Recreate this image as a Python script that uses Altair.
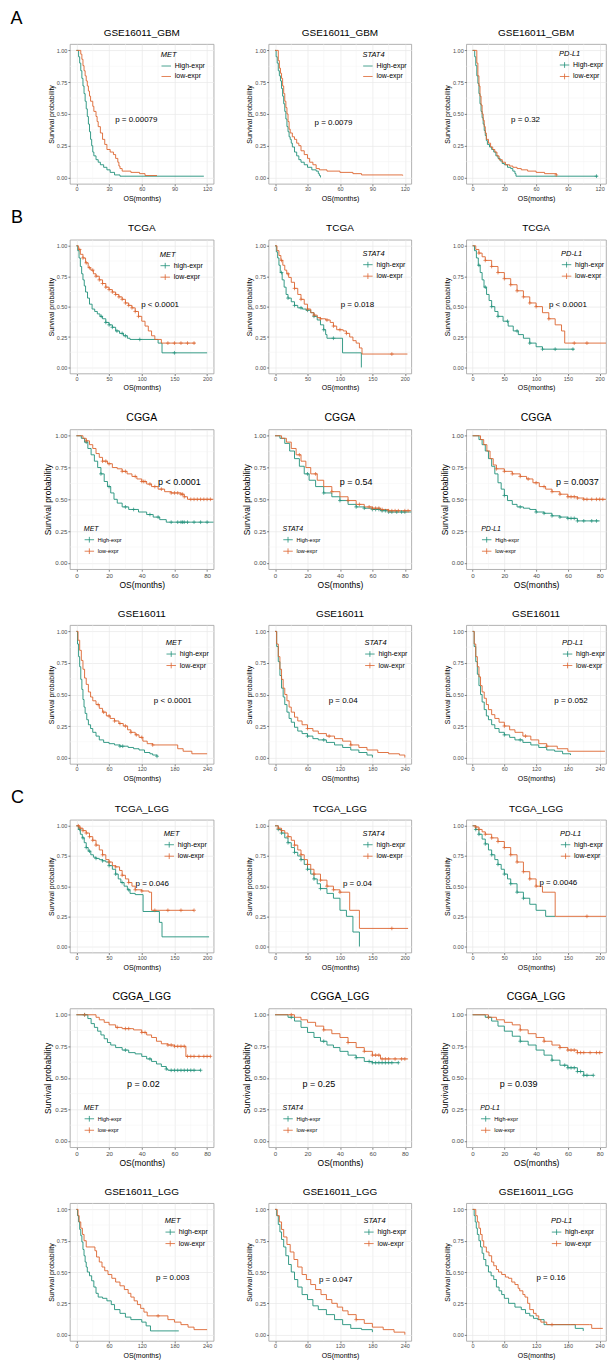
import altair as alt
import pandas as pd

GREEN = "#21917A"
ORANGE = "#DD6530"
FONT = "Liberation Sans"

# ---------------- data: (month, survival) step points ----------------
GBM_MET_HIGH = [(0,1.0),(2,0.95),(3,0.9),(4,0.84),(5,0.78),(6,0.72),(7,0.66),(8,0.6),(9,0.54),(10,0.48),(11,0.42),(12,0.36),(13,0.3),(14,0.25),(15,0.2),(16,0.17),(18,0.14),(20,0.12),(22,0.1),(25,0.08),(28,0.06),(31,0.04),(35,0.02),(40,0.01),(117,0.01)]
GBM_MET_LOW = [(0,1.0),(4,0.97),(5,0.93),(6,0.88),(7,0.84),(8,0.8),(9,0.76),(10,0.72),(11,0.68),(12,0.64),(13,0.6),(15,0.56),(16,0.52),(18,0.48),(19,0.44),(20,0.4),(22,0.35),(24,0.3),(26,0.26),(28,0.22),(31,0.2),(34,0.18),(36,0.15),(38,0.12),(39,0.09),(40,0.07),(42,0.05),(50,0.04),(58,0.03),(63,0.015),(74,0.015)]
GBM_STAT4_HIGH = [(0,1.0),(1,0.95),(2,0.9),(3,0.84),(4,0.8),(5,0.76),(6,0.7),(7,0.64),(8,0.58),(9,0.52),(10,0.46),(11,0.4),(12,0.36),(13,0.32),(14,0.3),(15,0.27),(16,0.24),(18,0.2),(20,0.17),(22,0.14),(24,0.12),(27,0.1),(30,0.08),(34,0.06),(38,0.05),(40,0.03),(41,0.015),(42,0.0)]
GBM_STAT4_LOW = [(0,1.0),(3,0.92),(4,0.86),(5,0.82),(6,0.78),(7,0.72),(8,0.66),(9,0.6),(10,0.55),(11,0.5),(12,0.44),(13,0.38),(14,0.35),(16,0.32),(18,0.3),(20,0.27),(22,0.25),(24,0.21),(27,0.18),(30,0.15),(32,0.12),(35,0.1),(38,0.07),(41,0.06),(48,0.05),(60,0.04),(72,0.03),(80,0.02),(118,0.015)]
GBM_PDL1_HIGH = [(0,1.0),(2,0.95),(3,0.88),(4,0.8),(5,0.74),(6,0.66),(7,0.58),(8,0.52),(9,0.47),(10,0.42),(11,0.37),(12,0.33),(13,0.29),(14,0.26),(16,0.24),(18,0.22),(20,0.2),(22,0.17),(24,0.15),(26,0.13),(28,0.11),(30,0.1),(33,0.08),(36,0.07),(38,0.05),(40,0.03),(41,0.01),(118,0.01)]
GBM_PDL1_LOW = [(0,1.0),(4,0.9),(5,0.8),(6,0.72),(7,0.64),(8,0.57),(9,0.5),(10,0.45),(11,0.4),(12,0.35),(13,0.3),(15,0.27),(17,0.24),(19,0.22),(21,0.2),(23,0.17),(25,0.14),(28,0.12),(31,0.1),(35,0.09),(38,0.08),(42,0.07),(46,0.06),(52,0.05),(60,0.04),(68,0.03),(79,0.02)]

TCGA_MET_HIGH = [(0,1.0),(2,0.96),(4,0.9),(6,0.83),(8,0.77),(10,0.72),(12,0.67),(14,0.62),(17,0.57),(20,0.52),(24,0.48),(28,0.46),(32,0.44),(36,0.42),(40,0.4),(45,0.37),(50,0.35),(55,0.33),(60,0.3),(66,0.28),(72,0.26),(78,0.24),(82,0.23),(125,0.2),(131,0.12),(200,0.12)]
TCGA_MET_LOW = [(0,1.0),(3,0.97),(6,0.93),(10,0.9),(14,0.86),(18,0.82),(22,0.8),(26,0.77),(30,0.75),(35,0.72),(40,0.69),(45,0.66),(50,0.64),(55,0.62),(60,0.6),(65,0.58),(70,0.56),(75,0.53),(80,0.51),(85,0.49),(90,0.46),(95,0.42),(100,0.38),(105,0.34),(110,0.3),(115,0.26),(120,0.23),(130,0.2),(182,0.2)]
TCGA_STAT4_HIGH = [(0,1.0),(2,0.95),(4,0.9),(6,0.84),(8,0.78),(11,0.72),(14,0.66),(17,0.6),(20,0.57),(25,0.54),(30,0.51),(35,0.49),(42,0.48),(48,0.47),(55,0.45),(60,0.42),(65,0.39),(70,0.35),(75,0.31),(78,0.27),(80,0.24),(104,0.12),(133,0.0)]
TCGA_STAT4_LOW = [(0,1.0),(3,0.96),(6,0.92),(9,0.88),(12,0.84),(15,0.8),(18,0.77),(21,0.74),(25,0.7),(30,0.65),(35,0.6),(40,0.56),(45,0.52),(50,0.48),(55,0.45),(60,0.43),(65,0.41),(70,0.4),(78,0.39),(85,0.37),(90,0.34),(95,0.31),(105,0.3),(110,0.28),(115,0.25),(120,0.22),(125,0.2),(130,0.16),(134,0.11),(204,0.11)]
TCGA_PDL1_HIGH = [(0,1.0),(3,0.96),(6,0.9),(9,0.84),(12,0.78),(15,0.72),(18,0.66),(22,0.6),(26,0.55),(30,0.5),(35,0.46),(40,0.42),(48,0.38),(56,0.34),(64,0.3),(72,0.27),(80,0.24),(90,0.2),(100,0.17),(110,0.15),(160,0.15)]
TCGA_PDL1_LOW = [(0,1.0),(5,0.97),(10,0.94),(15,0.91),(20,0.88),(30,0.83),(40,0.78),(50,0.73),(60,0.68),(70,0.63),(80,0.58),(90,0.53),(100,0.5),(110,0.45),(120,0.4),(130,0.35),(140,0.3),(145,0.2),(210,0.2)]

CGGA_MET_HIGH = [(0,1.0),(3,0.98),(5,0.95),(7,0.9),(9,0.85),(11,0.8),(13,0.75),(15,0.7),(17,0.64),(19,0.6),(21,0.55),(23,0.5),(25,0.47),(28,0.44),(32,0.42),(38,0.4),(43,0.38),(47,0.36),(51,0.34),(55,0.32),(84,0.32)]
CGGA_MET_LOW = [(0,1.0),(4,0.98),(6,0.96),(8,0.93),(10,0.9),(12,0.86),(14,0.83),(16,0.8),(19,0.78),(22,0.75),(25,0.74),(28,0.72),(31,0.7),(34,0.68),(37,0.66),(40,0.64),(43,0.62),(46,0.6),(50,0.58),(54,0.56),(58,0.55),(64,0.54),(66,0.52),(68,0.5),(84,0.5)]
CGGA_STAT4_HIGH = [(0,1.0),(3,0.98),(6,0.94),(9,0.88),(12,0.82),(15,0.76),(18,0.7),(21,0.65),(25,0.6),(30,0.55),(35,0.52),(40,0.49),(45,0.46),(50,0.44),(55,0.43),(60,0.42),(65,0.41),(70,0.4),(84,0.4)]
CGGA_STAT4_LOW = [(0,1.0),(4,0.98),(7,0.95),(10,0.9),(13,0.85),(16,0.8),(19,0.75),(22,0.7),(26,0.65),(30,0.6),(35,0.56),(40,0.52),(45,0.49),(50,0.46),(55,0.44),(60,0.43),(65,0.42),(70,0.41),(84,0.41)]
CGGA_PDL1_HIGH = [(0,1.0),(4,0.97),(6,0.93),(8,0.88),(10,0.82),(12,0.76),(14,0.7),(16,0.63),(18,0.58),(20,0.53),(22,0.49),(25,0.46),(28,0.44),(32,0.43),(36,0.42),(40,0.4),(45,0.39),(50,0.37),(55,0.36),(60,0.35),(66,0.33),(80,0.33)]
CGGA_PDL1_LOW = [(0,1.0),(5,0.97),(7,0.93),(9,0.88),(11,0.82),(13,0.77),(15,0.74),(20,0.72),(25,0.7),(30,0.68),(34,0.66),(38,0.63),(42,0.6),(46,0.58),(50,0.56),(55,0.54),(60,0.52),(66,0.51),(70,0.5),(85,0.5)]

GSE_MET_HIGH = [(0,1.0),(2,0.9),(4,0.8),(6,0.72),(8,0.62),(10,0.54),(12,0.46),(14,0.4),(16,0.35),(19,0.3),(22,0.26),(26,0.23),(30,0.2),(36,0.17),(42,0.14),(50,0.12),(60,0.11),(70,0.1),(80,0.09),(95,0.08),(105,0.07),(115,0.06),(125,0.04),(135,0.03),(140,0.02),(148,0.01)]
GSE_MET_LOW = [(0,1.0),(3,0.93),(6,0.85),(9,0.77),(12,0.7),(15,0.63),(18,0.58),(22,0.52),(26,0.48),(30,0.45),(36,0.42),(42,0.39),(48,0.36),(55,0.33),(62,0.31),(70,0.29),(78,0.27),(86,0.25),(94,0.22),(100,0.2),(108,0.18),(115,0.16),(122,0.13),(130,0.11),(140,0.1),(186,0.07),(196,0.05),(212,0.03),(240,0.03)]
GSE_STAT4_HIGH = [(0,1.0),(3,0.88),(6,0.76),(9,0.65),(12,0.55),(15,0.48),(18,0.42),(22,0.36),(26,0.31),(30,0.28),(36,0.24),(42,0.21),(50,0.19),(60,0.17),(70,0.15),(80,0.14),(95,0.12),(110,0.1),(125,0.08),(140,0.06),(155,0.04),(170,0.02),(180,0.0)]
GSE_STAT4_LOW = [(0,1.0),(3,0.9),(6,0.8),(9,0.7),(12,0.62),(15,0.55),(18,0.5),(22,0.45),(26,0.4),(30,0.36),(36,0.32),(42,0.29),(50,0.26),(60,0.23),(70,0.21),(80,0.19),(95,0.17),(110,0.15),(125,0.13),(140,0.1),(155,0.08),(170,0.06),(190,0.04),(210,0.03),(230,0.02),(240,0.0)]
GSE_PDL1_HIGH = [(0,1.0),(3,0.88),(6,0.76),(9,0.66),(12,0.57),(15,0.5),(18,0.44),(22,0.38),(26,0.33),(30,0.3),(36,0.26),(42,0.23),(50,0.2),(60,0.18),(70,0.16),(80,0.14),(95,0.12),(110,0.1),(125,0.08),(140,0.06),(155,0.05),(170,0.03),(185,0.02)]
GSE_PDL1_LOW = [(0,1.0),(3,0.9),(6,0.8),(9,0.72),(12,0.64),(15,0.57),(18,0.52),(22,0.47),(26,0.42),(30,0.38),(36,0.34),(42,0.31),(50,0.28),(60,0.25),(70,0.22),(80,0.2),(95,0.17),(110,0.14),(125,0.11),(140,0.09),(160,0.07),(180,0.05),(250,0.05)]

TLGG_MET_HIGH = [(0,1.0),(3,0.97),(6,0.93),(9,0.9),(12,0.86),(15,0.82),(18,0.79),(22,0.76),(26,0.74),(30,0.73),(35,0.72),(40,0.71),(45,0.7),(50,0.67),(55,0.64),(60,0.6),(64,0.56),(68,0.53),(73,0.5),(78,0.47),(82,0.44),(90,0.43),(102,0.29),(127,0.2),(131,0.08),(203,0.08)]
TLGG_MET_LOW = [(0,1.0),(5,0.98),(10,0.96),(15,0.94),(20,0.91),(25,0.88),(30,0.84),(35,0.8),(40,0.76),(45,0.72),(50,0.7),(55,0.67),(60,0.66),(66,0.63),(70,0.59),(75,0.56),(80,0.53),(85,0.5),(90,0.47),(100,0.46),(111,0.45),(115,0.3),(180,0.3)]
TLGG_STAT4_HIGH = [(0,1.0),(5,0.97),(10,0.94),(15,0.9),(20,0.86),(25,0.82),(30,0.78),(35,0.75),(40,0.72),(45,0.68),(50,0.64),(55,0.6),(60,0.56),(65,0.52),(70,0.48),(80,0.44),(90,0.4),(100,0.3),(110,0.25),(120,0.12),(130,0.0)]
TLGG_STAT4_LOW = [(0,1.0),(5,0.98),(10,0.96),(15,0.94),(20,0.91),(25,0.88),(30,0.84),(35,0.8),(40,0.76),(45,0.72),(50,0.68),(55,0.64),(60,0.6),(70,0.55),(80,0.5),(90,0.47),(100,0.45),(115,0.3),(130,0.15),(205,0.15)]
TLGG_PDL1_HIGH = [(0,1.0),(5,0.97),(10,0.93),(15,0.89),(20,0.85),(25,0.8),(30,0.76),(35,0.72),(40,0.68),(45,0.64),(50,0.6),(55,0.56),(60,0.52),(70,0.45),(80,0.4),(90,0.35),(100,0.3),(115,0.25),(130,0.25)]
TLGG_PDL1_LOW = [(0,1.0),(5,0.99),(10,0.97),(15,0.95),(20,0.93),(30,0.9),(40,0.87),(50,0.82),(60,0.76),(70,0.7),(80,0.62),(90,0.56),(100,0.5),(110,0.45),(130,0.25),(210,0.25)]

CLGG_MET_HIGH = [(0,1.0),(7,0.97),(9,0.93),(11,0.9),(13,0.87),(15,0.84),(17,0.81),(19,0.78),(21,0.76),(24,0.74),(28,0.72),(32,0.7),(36,0.69),(40,0.67),(43,0.65),(46,0.63),(49,0.61),(52,0.59),(55,0.57),(56,0.56),(76,0.56)]
CLGG_MET_LOW = [(0,1.0),(12,0.98),(14,0.96),(17,0.94),(20,0.92),(24,0.9),(28,0.89),(35,0.88),(40,0.86),(43,0.84),(46,0.82),(49,0.79),(52,0.77),(56,0.76),(60,0.75),(67,0.67),(82,0.67)]
CLGG_STAT4_HIGH = [(0,1.0),(8,0.98),(12,0.95),(16,0.9),(20,0.86),(24,0.82),(28,0.79),(32,0.76),(36,0.74),(40,0.71),(45,0.68),(50,0.66),(55,0.63),(60,0.62),(76,0.62)]
CLGG_STAT4_LOW = [(0,1.0),(12,0.98),(16,0.96),(20,0.94),(25,0.91),(30,0.88),(35,0.85),(40,0.82),(45,0.78),(50,0.74),(55,0.71),(60,0.68),(65,0.65),(82,0.65)]
CLGG_PDL1_HIGH = [(0,1.0),(8,0.98),(12,0.95),(16,0.91),(20,0.87),(25,0.83),(30,0.79),(35,0.76),(40,0.72),(45,0.68),(50,0.64),(55,0.6),(60,0.58),(66,0.55),(70,0.52),(76,0.52)]
CLGG_PDL1_LOW = [(0,1.0),(10,0.98),(15,0.96),(20,0.94),(25,0.92),(30,0.88),(35,0.85),(40,0.82),(45,0.79),(50,0.76),(55,0.74),(60,0.72),(66,0.7),(82,0.7)]

GLGG_MET_HIGH = [(0,1.0),(2,0.95),(4,0.9),(6,0.84),(8,0.79),(10,0.74),(12,0.68),(14,0.63),(16,0.58),(18,0.54),(20,0.5),(24,0.47),(28,0.43),(32,0.38),(36,0.33),(40,0.3),(48,0.29),(56,0.27),(64,0.24),(70,0.2),(80,0.17),(90,0.14),(100,0.12),(120,0.1),(128,0.07),(136,0.03),(188,0.03)]
GLGG_MET_LOW = [(0,1.0),(3,0.95),(5,0.9),(8,0.85),(11,0.8),(14,0.75),(18,0.7),(34,0.67),(37,0.62),(42,0.58),(47,0.54),(52,0.51),(58,0.48),(65,0.45),(72,0.42),(80,0.39),(88,0.36),(95,0.33),(100,0.3),(106,0.27),(112,0.24),(118,0.21),(124,0.18),(130,0.15),(168,0.12),(180,0.1),(192,0.08),(205,0.06),(216,0.04),(240,0.04)]
GLGG_STAT4_HIGH = [(0,1.0),(3,0.95),(6,0.88),(9,0.82),(12,0.76),(16,0.7),(20,0.63),(25,0.56),(30,0.5),(36,0.44),(42,0.38),(50,0.32),(60,0.28),(70,0.23),(80,0.2),(95,0.16),(110,0.12),(125,0.08),(140,0.05),(160,0.04),(180,0.02)]
GLGG_STAT4_LOW = [(0,1.0),(4,0.95),(8,0.9),(12,0.84),(16,0.78),(22,0.72),(28,0.66),(35,0.6),(42,0.54),(50,0.48),(58,0.44),(66,0.4),(75,0.36),(85,0.32),(95,0.28),(105,0.25),(115,0.22),(125,0.19),(135,0.16),(150,0.12),(165,0.09),(180,0.06),(200,0.04),(220,0.02),(240,0.0)]
GLGG_PDL1_HIGH = [(0,1.0),(3,0.95),(5,0.9),(7,0.85),(9,0.8),(12,0.75),(15,0.7),(18,0.65),(21,0.6),(25,0.55),(30,0.5),(35,0.47),(40,0.44),(45,0.38),(50,0.35),(55,0.32),(60,0.29),(68,0.25),(80,0.22),(92,0.2),(100,0.17),(108,0.15),(115,0.13),(123,0.12),(135,0.08),(185,0.08),(194,0.05),(209,0.03)]
GLGG_PDL1_LOW = [(0,1.0),(6,0.95),(9,0.9),(12,0.85),(15,0.8),(18,0.75),(21,0.7),(26,0.66),(31,0.63),(36,0.58),(40,0.55),(45,0.52),(49,0.5),(55,0.48),(62,0.46),(68,0.45),(74,0.42),(80,0.4),(86,0.37),(89,0.35),(95,0.32),(99,0.3),(104,0.25),(108,0.2),(115,0.17),(120,0.15),(125,0.12),(129,0.1),(140,0.08),(221,0.08),(225,0.05),(246,0.05)]

# censoring times (months)
TCGA_MET_CENS = ([38,45,50,55,62,70,75,97,150], [5,10,15,20,25,30,35,40,45,50,55,60,65,70,75,80,85,90,95,140,150,160,170,180])
TCGA_STAT4_CENS = ([10,20,30,40,50,60,75,90], [10,20,30,40,50,60,70,80,90,100,110,180])
TCGA_PDL1_CENS = ([10,20,30,40,55,70,90,110,130,158], [10,20,30,40,50,60,70,80,90,100,120,160,180])
CGGA_MET_CENS = ([6,15,20,30,35,45,50,58,62,64,65,66,68,72,76,80], [6,16,18,20,28,30,36,40,41,42,45,48,52,58,60,62,64,65,66,70,72,74,76,78,80,82])
CGGA_STAT4_CENS = ([20,30,40,50,55,60,62,64,66,68,70,72,75,78,80], [15,25,35,45,52,58,60,62,64,66,70,72,74,76,80,82])
CGGA_PDL1_CENS = ([20,30,40,45,50,55,60,62,64,66,70,75,78], [15,20,25,30,35,40,45,50,55,60,62,64,66,70,72,75,78,80,82])
GSE_MET_CENS = ([80,85,148], [40,50,60,70,80,90,100,110,120,140])
GSE_STAT4_CENS = ([60,90], [60,100,140])
GSE_PDL1_CENS = ([60,90], [60,100,140])
TLGG_MET_CENS = ([5,10,15,20,30,40,50,60,70,80], [3,6,10,15,20,25,30,40,50,60,70,80,90,100,120,140,160,180])
TLGG_STAT4_CENS = ([5,10,20,30,40,50,60,70], [5,10,20,30,40,50,60,70,80,90,100,180])
TLGG_PDL1_CENS = ([5,10,20,30,40,50,60,70,80], [5,10,20,30,40,50,60,70,80,90,100,180])
CLGG_MET_CENS = ([5,30,45,55,58,60,62,64,66,68,70,72,76], [5,25,30,32,40,42,56,58,60,62,64,66,68,70,72,75,78,80,82])
CLGG_STAT4_CENS = ([10,30,50,58,60,62,64,66,68,70,72,76], [10,30,45,55,60,62,64,66,68,70,74,78,80])
CLGG_PDL1_CENS = ([10,30,50,58,60,62,64,66,68,70,72,76], [10,30,45,55,60,62,64,66,68,70,74,78,80])
GLGG_CENS = ([], [150])

SECTION_LABELS = ["A", "B", "C"]
GENES = ["MET", "STAT4", "PD-L1"]
LABELS_UP = ["High-expr", "low-expr"]
LABELS_LO = ["high-expr", "low-expr"]
Y_TICKS = [0, 0.25, 0.5, 0.75, 1.0]
Y_MINOR = [0.125, 0.375, 0.625, 0.875]
X_TICKS = {120: [0, 30, 60, 90, 120], 200: [0, 50, 100, 150, 200], 80: [0, 20, 40, 60, 80], 240: [0, 60, 120, 180, 240]}
X_MINOR = {120: [15, 45, 75, 105], 200: [25, 75, 125, 175], 80: [10, 30, 50, 70], 240: [30, 90, 150, 210]}

COL_W = [144, 143, 140]
ROW_H = [140, 134, 140, 139, 133, 139, 138]
ROW_GAP = 56
COL_GAP = 55

LINE_SYM = "M-1,0H1"
CROSS_SYM = "M-1,0H1M0,-0.6V0.6"
CENS_SYM = "M-1,0H1M0,-1V1"


def step_at(curve, t):
    s = curve[0][1]
    for tt, ss in curve:
        if tt <= t:
            s = ss
        else:
            break
    return s


def panel(title, gene, labels, high, low, cens, xmax, ptxt, pxy, lxy, big, sym, w, h, letter=None):
    fs_tick = 6.2 if big else 5.5
    fs_axis = 8.5 if big else 7
    fs_ltitle = 7 if big else 7.5
    fs_llab = 5.5 if big else 7
    fs_p = 9 if big else 8
    xs = alt.Scale(domain=[-0.05 * xmax, 1.05 * xmax], nice=False, zero=False)
    ys = alt.Scale(domain=[-0.05, 1.05], nice=False, zero=False)
    common = dict(grid=True, gridColor="#E8E8E8", gridWidth=0.7, domain=False, tickSize=2,
                  tickColor="#333333", tickWidth=0.6, labelFontSize=fs_tick, labelColor="#4D4D4D",
                  labelPadding=1, titleFontSize=fs_axis, titleFontWeight="normal", titleColor="#000000",
                  titlePadding=2, labelFont=FONT, titleFont=FONT, labelOverlap=False)
    xax = alt.Axis(values=X_TICKS[xmax], format="d", title="OS(months)", **common)
    yax = alt.Axis(values=Y_TICKS, format=".2f", title="Survival probability", **common)

    rows = []
    for lab, cur in ((labels[0], high), (labels[1], low)):
        for t, s in cur:
            rows.append({"t": t, "s": s, "grp": lab})
    df = pd.DataFrame(rows)
    crows = []
    for lab, cur, ct in ((labels[0], high, cens[0]), (labels[1], low, cens[1])):
        for t in ct:
            if t <= cur[-1][0]:
                crows.append({"t": t, "s": step_at(cur, t), "grp": lab})

    cscale = alt.Scale(domain=labels, range=[GREEN, ORANGE])
    leg = alt.Legend(title=gene, orient="none", legendX=lxy[0], legendY=lxy[1], direction="vertical",
                     titleFontStyle="italic", titleFontWeight="normal", titleFontSize=fs_ltitle,
                     titleFont=FONT, labelFont=FONT, labelFontSize=fs_llab, labelColor="#000000",
                     titleColor="#000000", symbolType=sym, symbolSize=90, symbolStrokeWidth=0.8,
                     titlePadding=2, rowPadding=1.5, padding=0, labelOffset=3, symbolOffset=0,
                     labelLimit=max(20, w - lxy[0] - 14))

    xminor = alt.Chart(pd.DataFrame({"v": X_MINOR[xmax]})).mark_rule(color="#F2F2F2", strokeWidth=0.5).encode(
        x=alt.X("v:Q", scale=xs, axis=xax))
    yminor = alt.Chart(pd.DataFrame({"v": Y_MINOR})).mark_rule(color="#F2F2F2", strokeWidth=0.5).encode(
        y=alt.Y("v:Q", scale=ys, axis=yax))
    lines = alt.Chart(df).mark_line(interpolate="step-after", strokeWidth=0.9, clip=True).encode(
        x=alt.X("t:Q", scale=xs, axis=xax),
        y=alt.Y("s:Q", scale=ys, axis=yax),
        color=alt.Color("grp:N", scale=cscale, legend=leg),
        detail="grp:N")
    layers = [xminor, yminor, lines]
    if crows:
        pts = alt.Chart(pd.DataFrame(crows)).mark_point(shape=CENS_SYM, size=14, strokeWidth=0.7, filled=False,
                                                         opacity=1, clip=True).encode(
            x=alt.X("t:Q", scale=xs, axis=xax),
            y=alt.Y("s:Q", scale=ys, axis=yax),
            color=alt.Color("grp:N", scale=cscale, legend=None))
        layers.append(pts)
    ptext = alt.Chart(pd.DataFrame({"t": [pxy[0]], "s": [pxy[1]], "lab": [ptxt]})).mark_text(
        fontSize=fs_p, font=FONT, color="#000000", align="center", baseline="middle").encode(
        x=alt.X("t:Q", scale=xs, axis=xax), y=alt.Y("s:Q", scale=ys, axis=yax), text="lab:N")
    layers.append(ptext)
    if letter is not None:
        # section letter of the NEXT row, drawn below this panel (keeps the title layout intact)
        lt = alt.Chart(pd.DataFrame({"lab": [letter]})).mark_text(
            fontSize=18, font=FONT, color="#000000", align="left", baseline="top").encode(
            x=alt.value(-59), y=alt.value(h + ROW_GAP - 31), text="lab:N")
        layers.append(lt)
    return alt.layer(*layers).properties(
        width=w, height=h,
        title=alt.TitleParams(title, fontSize=10.5 if big else 10, font=FONT, fontWeight="normal",
                              color="#000000", offset=6, anchor="middle", frame="group"))


PANELS = [
    # row A
    ("GSE16011_GBM", 0, LABELS_UP, GBM_MET_HIGH, GBM_MET_LOW, ([], []), 120, "p = 0.00079", (55, 0.45), (91, 7), False, LINE_SYM, SECTION_LABELS[1]),
    ("GSE16011_GBM", 1, LABELS_UP, GBM_STAT4_HIGH, GBM_STAT4_LOW, ([], []), 120, "p = 0.0079", (54, 0.43), (94, 7), False, LINE_SYM, None),
    ("GSE16011_GBM", 2, LABELS_UP, GBM_PDL1_HIGH, GBM_PDL1_LOW, ([117], [79]), 120, "p = 0.32", (50, 0.45), (93, 6), False, CROSS_SYM, None),
    # row B1
    ("TCGA", 0, LABELS_LO, TCGA_MET_HIGH, TCGA_MET_LOW, TCGA_MET_CENS, 200, "p < 0.0001", (128, 0.51), (90, 11), False, CROSS_SYM, None),
    ("TCGA", 1, LABELS_LO, TCGA_STAT4_HIGH, TCGA_STAT4_LOW, TCGA_STAT4_CENS, 200, "p = 0.018", (127, 0.51), (94, 10), False, CROSS_SYM, None),
    ("TCGA", 2, LABELS_LO, TCGA_PDL1_HIGH, TCGA_PDL1_LOW, TCGA_PDL1_CENS, 200, "p < 0.0001", (150, 0.51), (95, 10), False, CROSS_SYM, None),
    # row B2
    ("CGGA", 0, LABELS_UP, CGGA_MET_HIGH, CGGA_MET_LOW, CGGA_MET_CENS, 80, "p < 0.0001", (63, 0.64), (14, 96), True, CROSS_SYM, None),
    ("CGGA", 1, LABELS_UP, CGGA_STAT4_HIGH, CGGA_STAT4_LOW, CGGA_STAT4_CENS, 80, "p = 0.54", (50, 0.64), (14, 96), True, CROSS_SYM, None),
    ("CGGA", 2, LABELS_UP, CGGA_PDL1_HIGH, CGGA_PDL1_LOW, CGGA_PDL1_CENS, 80, "p = 0.0037", (66, 0.64), (15, 96), True, CROSS_SYM, None),
    # row B3
    ("GSE16011", 0, LABELS_LO, GSE_MET_HIGH, GSE_MET_LOW, GSE_MET_CENS, 240, "p < 0.0001", (177, 0.45), (96, 14), False, CROSS_SYM, SECTION_LABELS[2]),
    ("GSE16011", 1, LABELS_LO, GSE_STAT4_HIGH, GSE_STAT4_LOW, GSE_STAT4_CENS, 240, "p = 0.04", (126, 0.45), (96, 14), False, CROSS_SYM, None),
    ("GSE16011", 2, LABELS_LO, GSE_PDL1_HIGH, GSE_PDL1_LOW, GSE_PDL1_CENS, 240, "p = 0.052", (186, 0.45), (96, 14), False, CROSS_SYM, None),
    # row C1
    ("TCGA_LGG", 0, LABELS_LO, TLGG_MET_HIGH, TLGG_MET_LOW, TLGG_MET_CENS, 200, "p = 0.046", (116, 0.52), (94, 10), False, CROSS_SYM, None),
    ("TCGA_LGG", 1, LABELS_LO, TLGG_STAT4_HIGH, TLGG_STAT4_LOW, TLGG_STAT4_CENS, 200, "p = 0.04", (127, 0.52), (94, 10), False, CROSS_SYM, None),
    ("TCGA_LGG", 2, LABELS_LO, TLGG_PDL1_HIGH, TLGG_PDL1_LOW, TLGG_PDL1_CENS, 200, "p = 0.0046", (135, 0.53), (94, 10), False, CROSS_SYM, None),
    # row C2
    ("CGGA_LGG", 0, LABELS_UP, CLGG_MET_HIGH, CLGG_MET_LOW, CLGG_MET_CENS, 80, "p = 0.02", (41, 0.45), (14, 96), True, CROSS_SYM, None),
    ("CGGA_LGG", 1, LABELS_UP, CLGG_STAT4_HIGH, CLGG_STAT4_LOW, CLGG_STAT4_CENS, 80, "p = 0.25", (27, 0.45), (14, 96), True, CROSS_SYM, None),
    ("CGGA_LGG", 2, LABELS_UP, CLGG_PDL1_HIGH, CLGG_PDL1_LOW, CLGG_PDL1_CENS, 80, "p = 0.039", (29, 0.45), (14, 96), True, CROSS_SYM, None),
    # row C3
    ("GSE16011_LGG", 0, LABELS_LO, GLGG_MET_HIGH, GLGG_MET_LOW, GLGG_CENS, 240, "p = 0.003", (177, 0.45), (95, 14), False, CROSS_SYM, None),
    ("GSE16011_LGG", 1, LABELS_LO, GLGG_STAT4_HIGH, GLGG_STAT4_LOW, GLGG_CENS, 240, "p = 0.047", (112, 0.44), (95, 14), False, CROSS_SYM, None),
    ("GSE16011_LGG", 2, LABELS_LO, GLGG_PDL1_HIGH, GLGG_PDL1_LOW, GLGG_CENS, 240, "p = 0.16", (148, 0.45), (85, 14), False, CROSS_SYM, None),
]

charts = []
for i, (title, gi, labels, hi, lo, cens, xmax, ptxt, pxy, lxy, big, sym, letter) in enumerate(PANELS):
    r, c = divmod(i, 3)
    charts.append(panel(title, GENES[gi], labels, hi, lo, cens, xmax, ptxt, pxy, lxy, big, sym,
                        COL_W[c], ROW_H[r], letter))

chart = alt.concat(*charts, columns=3, spacing={"row": ROW_GAP, "column": COL_GAP}, bounds="flush").resolve_scale(
    color="independent").properties(
    title=alt.TitleParams(SECTION_LABELS[0], anchor="start", fontSize=18, font=FONT, fontWeight="normal",
                          color="#000000", offset=-1),
    padding={"left": 10, "top": 9, "right": 0, "bottom": 0}, background="white"
).configure_view(stroke="#9E9E9E", strokeWidth=0.8)

chart.save("out.html", embed_options={"renderer": "svg", "actions": False})
